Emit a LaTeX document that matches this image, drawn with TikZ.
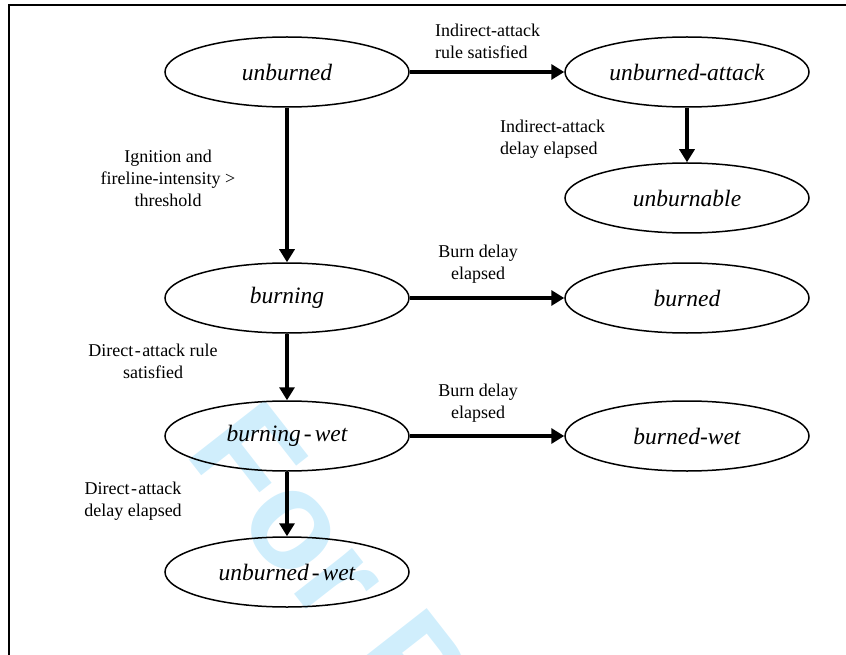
\documentclass[tikz,border=0pt]{standalone}
\usepackage{fontspec}
\setmainfont{Liberation Serif}
\newfontfamily\wmfont{Liberation Sans}
\usetikzlibrary{shapes.geometric,arrows.meta}
\definecolor{wmblue}{RGB}{208,238,252}
\tikzset{
  state/.style={draw, ellipse, line width=1.5pt, minimum width=244pt, minimum height=70pt, inner sep=0pt, font=\fontsize{23.5}{28}\selectfont\itshape},
  trans/.style={line width=3.5pt, -{Triangle[width=15pt,length=13pt]}},
  lbl/.style={font=\fontsize{18}{22}\selectfont, align=center, inner sep=0pt},
  frameline/.style={line width=2.5pt},
}
\begin{document}
\begin{tikzpicture}[x=1pt,y=-1pt]
\useasboundingbox (0,0) rectangle (846,655);
% watermark
\begin{scope}
\clip (0,0) rectangle (846,655);
\node[wmblue, rotate=-52, anchor=base west, inner sep=0pt, font=\wmfont\bfseries\fontsize{140}{140}\selectfont] (wm) at (183,452) {For Peer Review};
\end{scope}
% frame
\coordinate (ftl) at (9,5);
\coordinate (ftr) at (846,5);
\coordinate (fbl) at (9,655);
\draw[frameline] (ftr) -- (ftl) -- (fbl);
% states
\node[state] (unburned) at (287,72) {unburned};
\node[state] (uattack) at (687,72) {unburned-attack};
\node[state] (unburnable) at (687,198) {unburnable};
\node[state] (burning) at (287,298) {burning};
\node[state] (burned) at (687,298) {burned};
\node[state] (bwet) at (287,436) {burning\kern3pt-\kern3pt wet};
\node[state] (burnedwet) at (687,436) {burned-wet};
\node[state] (uwet) at (287,572) {unburned\kern3pt-\kern3pt wet};
% transitions
\draw[trans] (unburned) -- (uattack);
\draw[trans] (unburned) -- (burning);
\draw[trans] (uattack) -- (unburnable);
\draw[trans] (burning) -- (burned);
\draw[trans] (burning) -- (bwet);
\draw[trans] (bwet) -- (burnedwet);
\draw[trans] (bwet) -- (uwet);
% labels
\node[lbl, align=left, anchor=west] (l1) at (435,41) {Indirect-attack\\rule satisfied};
\node[lbl, align=left, anchor=west] (l2) at (500,139) {Indirect-attack\\delay elapsed};
\node[lbl] (l3) at (168,178) {Ignition and\\fireline-intensity \textgreater\\threshold};
\node[lbl] (l4) at (478,264) {Burn delay\\elapsed};
\node[lbl] (l5) at (478,403) {Burn delay\\elapsed};
\node[lbl] (l6) at (153,361) {Direct\kern1.5pt-\kern1.5pt attack rule\\satisfied};
\node[lbl] (l7) at (133,501) {Direct\kern1.5pt-\kern1.5pt attack\\delay elapsed};
\end{tikzpicture}
\end{document}
